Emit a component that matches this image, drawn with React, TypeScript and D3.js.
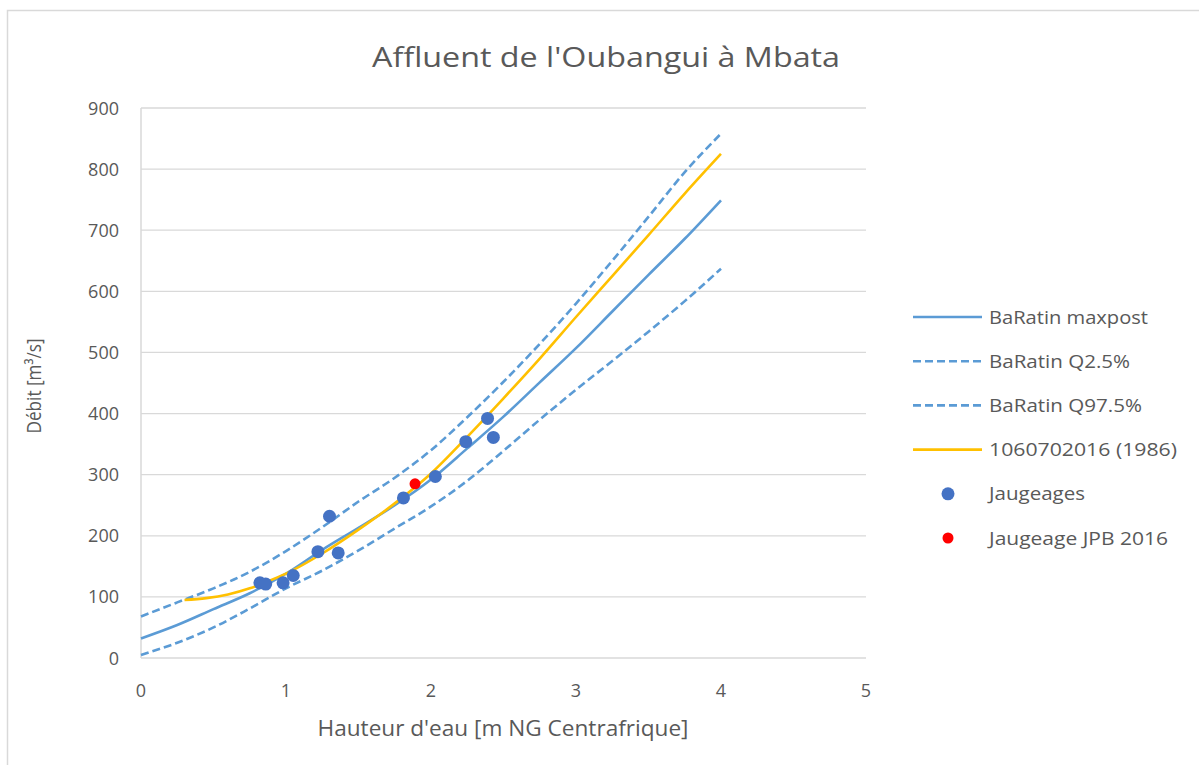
import React from "react";
import * as d3 from "d3";

const title = "Affluent de l'Oubangui à Mbata";
const xTitle = "Hauteur d'eau [m NG Centrafrique]";
const yTitle = "Débit [m³/s]";

const xTicks = [0, 1, 2, 3, 4, 5];
const yTicks = [0, 100, 200, 300, 400, 500, 600, 700, 800, 900];

const stage = [0, 0.25, 0.5, 0.75, 1, 1.25, 1.5, 1.75, 2, 2.25, 2.5, 2.75, 3, 3.25, 3.5, 3.75, 4];
const maxpost = [32, 54, 80, 106, 138, 177, 213, 250, 292, 343, 395, 451, 507, 567, 627, 686, 749];
const q025 = [5, 25, 50, 81, 114, 143, 176, 212, 248, 290, 339, 390, 439, 486, 534, 584, 637];
const q975 = [68, 91, 114, 141, 175, 214, 256, 295, 340, 394, 452, 514, 580, 650, 722, 795, 858];

const oldStage = [0.3, 0.45, 0.6, 0.75, 0.85, 1.0, 1.25, 1.5, 1.75, 2.0, 2.25, 2.5, 2.75, 3.0, 3.25, 3.5, 3.75, 4.0];
const oldCurve = [95, 98, 104, 114, 123, 138, 171, 210, 253, 302, 362, 425, 490, 558, 625, 692, 760, 825];

const gaugingH = [0.82, 0.86, 0.98, 1.05, 1.22, 1.3, 1.36, 1.81, 2.03, 2.24, 2.39, 2.43];
const gaugingQ = [123, 121, 123, 135, 174, 232, 172, 262, 297, 354, 392, 361];

const jpbH = [1.89];
const jpbQ = [285];

const legendLabels = [
  "BaRatin maxpost",
  "BaRatin Q2.5%",
  "BaRatin Q97.5%",
  "1060702016 (1986)",
  "Jaugeages",
  "Jaugeage JPB 2016",
];
const legendWidths = [159, 141, 153, 188, 96, 179];

const BLUE = "#5B9BD5";
const GOLD = "#FFC000";
const DOT = "#4472C4";
const RED = "#FF0000";
const TEXT = "#595959";
const GRID = "#D9D9D9";
const FONT = "'Open Sans', Lato, sans-serif";

export default function App() {
  const left = 141, right = 866, top = 108, bottom = 658;
  const x = d3.scaleLinear().domain([0, 5]).range([left, right]);
  const y = d3.scaleLinear().domain([0, 900]).range([bottom, top]);

  const line = d3
    .line<[number, number]>()
    .x((d) => x(d[0]))
    .y((d) => y(d[1]))
    .curve(d3.curveMonotoneX);

  const zip = (a: number[], b: number[]) => a.map((v, i) => [v, b[i]] as [number, number]);

  const legendX = 913;
  const legendY0 = 317;
  const legendStep = 44.2;

  return (
    <svg
      width={1199}
      height={765}
      style={{ position: "absolute", left: 0, top: 0, background: "#fff" }}
      fontFamily={FONT}
    >
      <rect x={0} y={0} width={1199} height={765} fill="#fff" />
      <rect x={7.5} y={10.5} width={1300} height={900} fill="none" stroke={GRID} strokeWidth={1.5} />

      <text x={606} y={67} textAnchor="middle" fontSize={28} fill={TEXT} textLength={468} lengthAdjust="spacingAndGlyphs">
        {title}
      </text>

      {yTicks.map((t) => (
        <line
          key={"g" + t}
          x1={left}
          x2={right}
          y1={y(t)}
          y2={y(t)}
          stroke={GRID}
          strokeWidth={t === 0 ? 1.5 : 1.3}
        />
      ))}
      <line x1={left} x2={left} y1={top} y2={bottom} stroke={GRID} strokeWidth={1.5} />

      {yTicks.map((t) => (
        <text key={"yl" + t} x={119} y={y(t) + 6.5} textAnchor="end" fontSize={18} fill={TEXT}>
          {t}
        </text>
      ))}
      {xTicks.map((t) => (
        <text key={"xl" + t} x={x(t)} y={697} textAnchor="middle" fontSize={18} fill={TEXT}>
          {t}
        </text>
      ))}

      <text x={503} y={736} textAnchor="middle" fontSize={21} fill={TEXT} textLength={371} lengthAdjust="spacingAndGlyphs">
        {xTitle}
      </text>
      <text
        transform={`translate(41, ${386}) rotate(-90)`}
        textAnchor="middle"
        fontSize={20}
        fill={TEXT}
        textLength={95}
        lengthAdjust="spacingAndGlyphs"
      >
        {yTitle}
      </text>

      <path d={line(zip(stage, q025)) || ""} fill="none" stroke={BLUE} strokeWidth={2.6} strokeDasharray="8,4" />
      <path d={line(zip(stage, q975)) || ""} fill="none" stroke={BLUE} strokeWidth={2.6} strokeDasharray="8,4" />
      <path d={line(zip(stage, maxpost)) || ""} fill="none" stroke={BLUE} strokeWidth={2.6} />
      <path d={line(zip(oldStage, oldCurve)) || ""} fill="none" stroke={GOLD} strokeWidth={2.6} />

      {gaugingH.map((h, i) => (
        <circle key={"d" + i} cx={x(h)} cy={y(gaugingQ[i])} r={6.5} fill={DOT} />
      ))}
      {jpbH.map((h, i) => (
        <circle key={"r" + i} cx={x(h)} cy={y(jpbQ[i])} r={5.5} fill={RED} />
      ))}

      {legendLabels.map((lab, i) => {
        const cy = legendY0 + i * legendStep;
        let sym: React.ReactNode = null;
        if (i === 0) sym = <line x1={legendX} x2={legendX + 69} y1={cy} y2={cy} stroke={BLUE} strokeWidth={2.6} />;
        else if (i === 1 || i === 2)
          sym = (
            <line x1={legendX} x2={legendX + 69} y1={cy} y2={cy} stroke={BLUE} strokeWidth={2.6} strokeDasharray="8,4" />
          );
        else if (i === 3) sym = <line x1={legendX} x2={legendX + 69} y1={cy} y2={cy} stroke={GOLD} strokeWidth={2.6} />;
        else if (i === 4) sym = <circle cx={legendX + 35} cy={cy} r={6.5} fill={DOT} />;
        else sym = <circle cx={legendX + 35} cy={cy} r={5.5} fill={RED} />;
        return (
          <g key={"lg" + i}>
            {sym}
            <text
              x={989}
              y={cy + 6.5}
              fontSize={19}
              fill={TEXT}
              textLength={legendWidths[i]}
              lengthAdjust="spacingAndGlyphs"
            >
              {lab}
            </text>
          </g>
        );
      })}
    </svg>
  );
}
